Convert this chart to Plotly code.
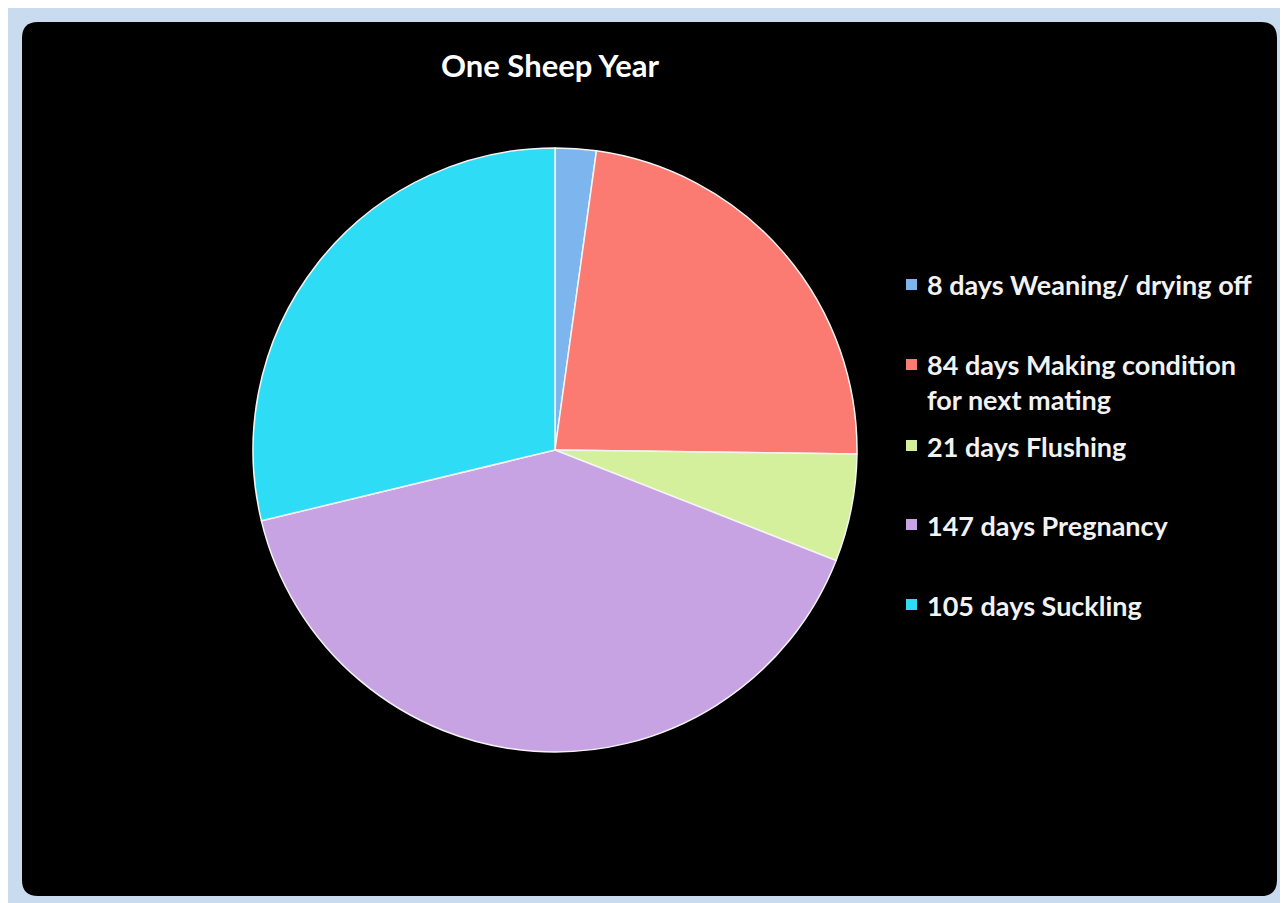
import plotly.graph_objects as go

# page has an 8px body margin; figure coords = page coords - 8
OFF = 8
W, H = 1280, 895

# Data
labels = ["8 days Weaning/ drying off",
          "84 days Making condition<br>for next mating",
          "21 days Flushing",
          "147 days Pregnancy",
          "105 days Suckling"]
days = [8, 84, 21, 147, 105]
colors = ["#7db6ee", "#fb7a72", "#d4f09c", "#c8a3e3", "#2fdcf6"]
title = "One Sheep Year"

def px(x):
    return (x - OFF) / W

def py(y):
    return 1 - (y - OFF) / H

cx, cy, r = 555, 450, 302

fig = go.Figure()
fig.add_trace(go.Pie(
    labels=labels, values=days, sort=False, direction="clockwise", rotation=0,
    marker=dict(colors=colors, line=dict(color="#f4f4f4", width=1.5)),
    textinfo="none", hoverinfo="label+value", showlegend=False,
    domain=dict(x=[px(cx - r), px(cx + r)], y=[py(cy + r), py(cy - r)]),
))

shapes = []
# outer frame
shapes.append(dict(type="rect", xref="paper", yref="paper",
                   x0=px(8), x1=px(1288), y0=py(903), y1=py(8),
                   fillcolor="#c9dcef", line=dict(width=0), layer="below"))
# black rounded panel
x0, x1, y0, y1, rc = 22, 1277, 22, 896, 16
path = (f"M {px(x0+rc)},{py(y0)} L {px(x1-rc)},{py(y0)} Q {px(x1)},{py(y0)} {px(x1)},{py(y0+rc)} "
        f"L {px(x1)},{py(y1-rc)} Q {px(x1)},{py(y1)} {px(x1-rc)},{py(y1)} "
        f"L {px(x0+rc)},{py(y1)} Q {px(x0)},{py(y1)} {px(x0)},{py(y1-rc)} "
        f"L {px(x0)},{py(y0+rc)} Q {px(x0)},{py(y0)} {px(x0+rc)},{py(y0)} Z")
shapes.append(dict(type="path", xref="paper", yref="paper", path=path,
                   fillcolor="#000000", line=dict(width=0), layer="below"))

annotations = [dict(text="<b>" + title + "</b>", x=px(550), y=py(65), xref="paper", yref="paper",
                    showarrow=False, font=dict(family="Lato", size=31, color="white"),
                    xanchor="center", yanchor="middle")]

legend_y = [285, 365, 446, 525, 605]
for lab, col, ly in zip(labels, colors, legend_y):
    shapes.append(dict(type="rect", xref="paper", yref="paper",
                       x0=px(906), x1=px(917), y0=py(ly + 5), y1=py(ly - 6),
                       fillcolor=col, line=dict(width=0)))
    multi = "<br>" in lab
    annotations.append(dict(text="<b>" + lab + "</b>", x=px(925), y=py(ly - 19) if multi else py(ly),
                            xref="paper", yref="paper", showarrow=False, align="left",
                            xanchor="left", yanchor="top" if multi else "middle",
                            font=dict(family="Lato", size=27, color="#f2f2f2")))

fig.update_layout(width=W, height=H, margin=dict(l=0, r=0, t=0, b=0),
                  paper_bgcolor="white", plot_bgcolor="white",
                  shapes=shapes, annotations=annotations, showlegend=False)

fig.write_html("out.html")
